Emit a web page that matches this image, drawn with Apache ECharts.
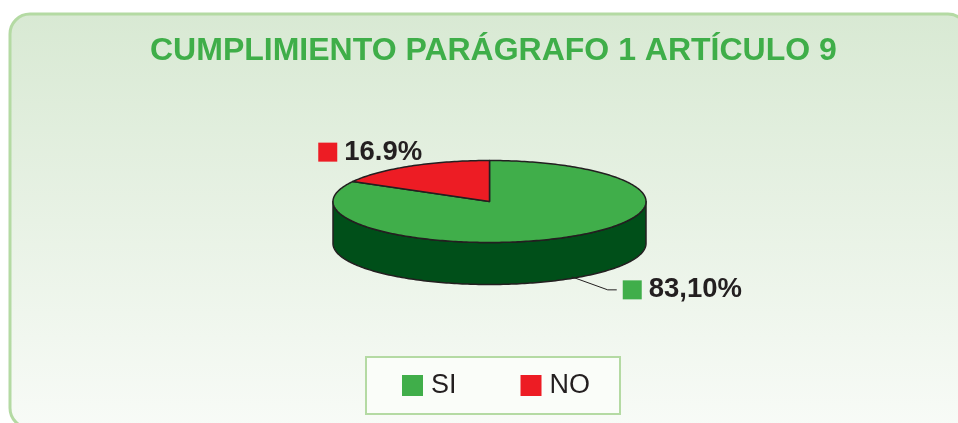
<!DOCTYPE html>
<html>
<head>
<meta charset="utf-8">
<script src="https://cdn.jsdelivr.net/npm/echarts@6/dist/echarts.min.js"></script>
<style>
html,body{margin:0;padding:0;background:#fff;}
#chart{width:958px;height:423px;}
</style>
</head>
<body>
<div id="chart"></div>
<script>
// ---- data ----
const titleText = 'CUMPLIMIENTO PARÁGRAFO 1 ARTÍCULO 9';
const categories = ['SI', 'NO'];
const values = [83.1, 16.9];
const labelTexts = ['83,10%', '16.9%'];

// ---- styles ----
const topColors = ['#40AE4A', '#ED1C24'];
const sideColors = ['#004F19', '#8A0E13'];
const outline = '#231F20';
const FONT = '"Liberation Sans", Arial, Helvetica, sans-serif';

// geometry of the 3D pie
const CX = 489.5, CY = 201.5, RX = 156.5, RY = 41, DEPTH = 42;

const total = values.reduce((a, b) => a + b, 0);
const starts = [];
values.reduce((acc, v, i) => { starts[i] = acc; return acc + v; }, 0);

function ellipsePt(t, dy) {
  const a = t * 2 * Math.PI;
  return [CX + RX * Math.sin(a), CY - RY * Math.cos(a) + (dy || 0)];
}
function arcPts(t0, t1, dy) {
  const n = Math.max(2, Math.ceil((t1 - t0) * 360));
  const pts = [];
  for (let i = 0; i <= n; i++) pts.push(ellipsePt(t0 + (t1 - t0) * i / n, dy));
  return pts;
}

function makeRender(idx) {
  return function (params, api) {
    const v = api.value(0), s = api.value(1);
    const t0 = s / total, t1 = (s + v) / total;
    const children = [];
    // top face
    children.push({
      type: 'polygon',
      shape: { points: [[CX, CY]].concat(arcPts(t0, t1, 0)) },
      style: { fill: topColors[idx], stroke: outline, lineWidth: 1.5, lineJoin: 'round' },
      z2: 10
    });
    // visible side (front half of the ellipse)
    const a0 = Math.max(t0, 0.25), a1 = Math.min(t1, 0.75);
    if (a1 > a0) {
      const topArc = arcPts(a0, a1, 0);
      const botArc = arcPts(a0, a1, DEPTH).reverse();
      children.push({
        type: 'polygon',
        shape: { points: topArc.concat(botArc) },
        style: { fill: sideColors[idx], stroke: outline, lineWidth: 1.5, lineJoin: 'round' },
        z2: 5
      });
    }
    // label
    const tm = (t0 + t1) / 2;
    const labelFont = 'bold 27.5px ' + FONT;
    const frontSide = Math.cos(tm * 2 * Math.PI) < 0;
    if (frontSide) {
      const p = ellipsePt(tm, DEPTH);
      const sx = p[0] + 3, sy = p[1] - 2;
      const ex = sx + 45, ey = sy + 13;
      children.push({
        type: 'polyline',
        shape: { points: [[sx, sy], [sx + 36, ey], [ex, ey]] },
        style: { stroke: outline, lineWidth: 1, fill: null },
        z2: 12
      });
      children.push({
        type: 'rect', shape: { x: ex + 6, y: ey - 9.5, width: 19, height: 19 },
        style: { fill: topColors[idx] }, z2: 12
      });
      children.push({
        type: 'text',
        style: { text: labelTexts[idx], x: ex + 32, y: ey, align: 'left', verticalAlign: 'middle', font: labelFont, fill: outline },
        z2: 12
      });
    } else {
      const p = ellipsePt(tm, 0);
      const cy = p[1] - 14;
      children.push({
        type: 'rect', shape: { x: p[0] - 92, y: cy - 9.5, width: 19, height: 19 },
        style: { fill: topColors[idx] }, z2: 12
      });
      children.push({
        type: 'text',
        style: { text: labelTexts[idx], x: p[0] - 66, y: cy, align: 'left', verticalAlign: 'middle', font: labelFont, fill: outline },
        z2: 12
      });
    }
    return { type: 'group', children: children };
  };
}

const series = categories.map((name, i) => ({
  type: 'custom',
  name: name,
  coordinateSystem: 'none',
  itemStyle: { color: topColors[i] },
  data: [[values[i], starts[i]]],
  renderItem: makeRender(i),
  silent: true,
  animation: false
}));

const chart = echarts.init(document.getElementById('chart'), null, { renderer: 'canvas' });
chart.setOption({
  animation: false,
  backgroundColor: '#ffffff',
  graphic: [{
    type: 'rect',
    z: -10,
    shape: { x: 10, y: 14, width: 958, height: 414, r: 20 },
    style: {
      fill: {
        type: 'linear', x: 0, y: 0, x2: 0, y2: 1,
        colorStops: [
          { offset: 0, color: '#D8E9D3' },
          { offset: 0.5, color: '#E8F2E5' },
          { offset: 1, color: '#F8FBF7' }
        ]
      },
      stroke: '#B4DAA3',
      lineWidth: 3
    }
  }],
  title: {
    text: titleText,
    left: 145,
    top: 30,
    textStyle: { fontFamily: FONT, fontSize: 32, fontWeight: 'bold', color: '#3FAE49' }
  },
  legend: {
    data: categories.map((c, i) => ({ name: c, itemStyle: { color: topColors[i], borderWidth: 0 } })),
    icon: 'rect',
    selectedMode: false,
    orient: 'horizontal',
    left: 366,
    top: 357,
    padding: [15, 30, 15, 36],
    itemWidth: 21,
    itemHeight: 21,
    itemGap: 64,
    backgroundColor: '#FAFDF9',
    borderColor: '#B4DAA3',
    borderWidth: 2,
    textStyle: { fontFamily: FONT, fontSize: 27, color: outline, padding: [0, 0, 0, 3] }
  },
  series: series
});
</script>
</body>
</html>
